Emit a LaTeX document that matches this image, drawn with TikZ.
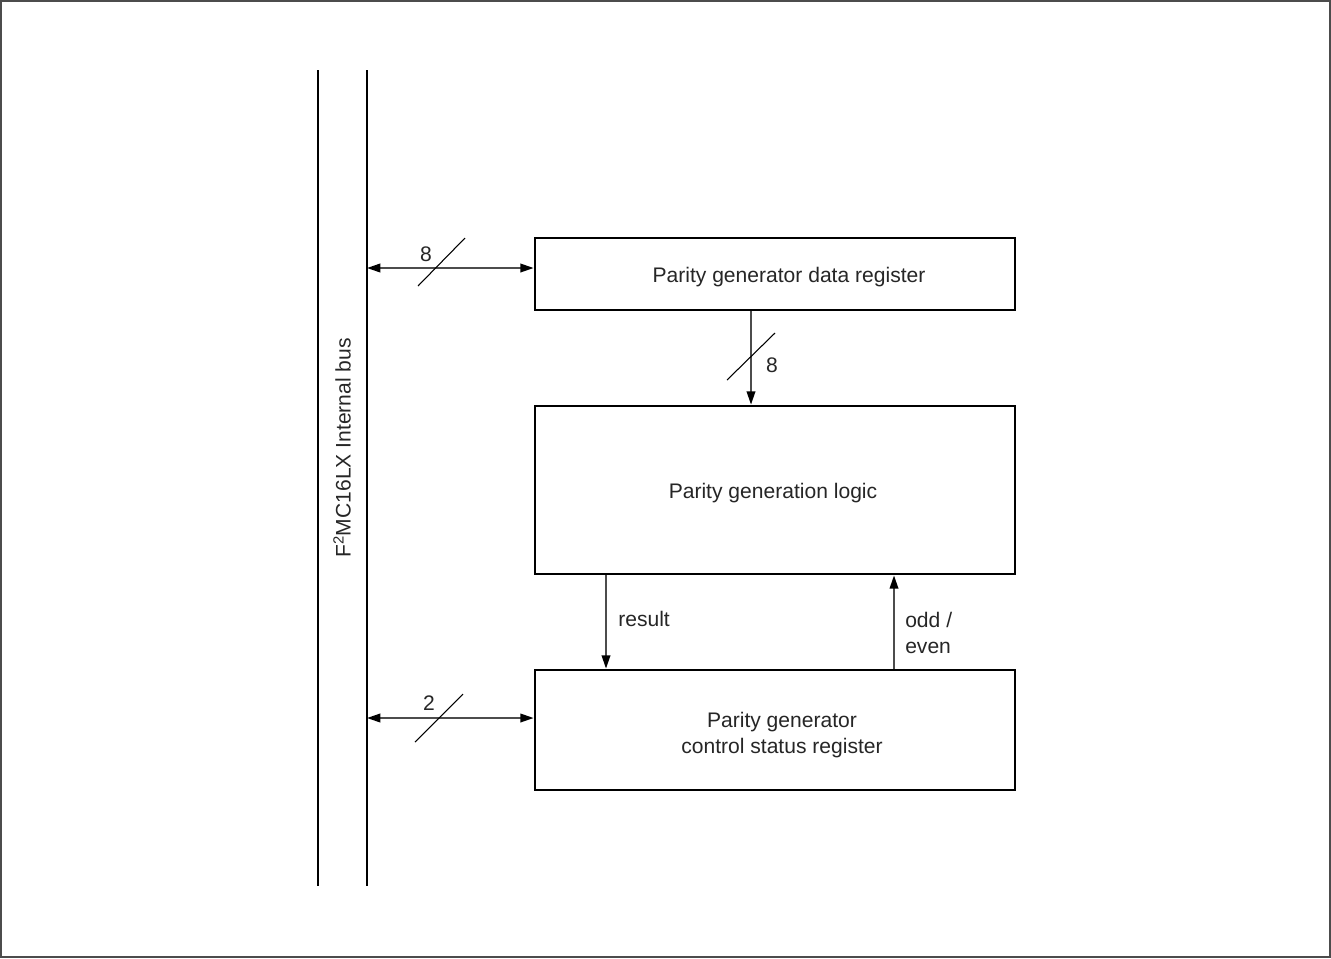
\documentclass[tikz,border=0pt]{standalone}
\usepackage{fontspec}
\setmainfont{Liberation Sans}
\usetikzlibrary{arrows.meta}
\begin{document}
\begin{tikzpicture}[x=0.75pt,y=-0.75pt,
  font=\fontsize{15.8}{19.5}\selectfont,
  box/.style={draw=black,line width=2.1pt,minimum width=360pt,inner sep=0pt,fill=white},
  txt/.style={inner sep=0pt,align=center,text=black!85},
  conn/.style={draw=black!70,line width=1.3pt},
  tip/.style={-{Triangle[length=10pt,width=6.5pt,color=black]}},
  dtip/.style={{Triangle[length=10pt,width=6.5pt,color=black]}-{Triangle[length=10pt,width=6.5pt,color=black]}},
  slash/.style={draw=black,line width=0.8pt},
  busline/.style={draw=black,line width=2.1pt},
  lbl/.style={inner sep=0pt,text=black!85}]
\useasboundingbox (0,0) rectangle (1331,958);
\draw[black!70,line width=0.9pt] (1,1) rectangle (1330,957);
% bus
\coordinate (busAtop) at (318,70);
\coordinate (busAbot) at (318,886);
\coordinate (busBtop) at (367,70);
\coordinate (busBbot) at (367,886);
\draw[busline] (busAtop) -- (busAbot);
\draw[busline] (busBtop) -- (busBbot);
\node[lbl,rotate=90] (buslbl) at (342,448) {F\textsuperscript{2}MC16LX Internal bus};
% boxes
\node[box,minimum height=54pt] (dreg) at (775,274) {};
\node[box,minimum height=126pt] (logic) at (775,490) {};
\node[box,minimum height=90pt] (creg) at (775,730) {};
\node[txt] (dregt) at (789,277) {Parity generator data register};
\node[txt] (logict) at (773,493) {Parity generation logic};
\node[txt] (cregt) at (782,735) {Parity generator\\control status register};
% bus <-> data register
\coordinate (b1) at (367,268);
\draw[conn,dtip] (b1) -- (b1 -| dreg.west);
\coordinate (s1a) at (418,286);
\coordinate (s1b) at (465,238);
\draw[slash] (s1a) -- (s1b);
\node[lbl] (n8a) at (426,254) {8};
% bus <-> control register
\coordinate (b2) at (367,718);
\draw[conn,dtip] (b2) -- (b2 -| creg.west);
\coordinate (s2a) at (415,742);
\coordinate (s2b) at (463,694);
\draw[slash] (s2a) -- (s2b);
\node[lbl] (n2) at (429,703) {2};
% data register -> logic
\coordinate (d1) at (751,0);
\draw[conn,tip] (d1 |- dreg.south) -- (d1 |- logic.north);
\coordinate (s3a) at (727,380);
\coordinate (s3b) at (775,333);
\draw[slash] (s3a) -- (s3b);
\node[lbl] (n8b) at (772,365) {8};
% result
\coordinate (r1) at (606,0);
\draw[conn,tip] (r1 |- logic.south) -- (r1 |- creg.north);
\node[lbl,anchor=west] (res) at (618,619) {result};
% odd/even
\coordinate (o1) at (894,0);
\draw[conn,tip] (o1 |- creg.north) -- (o1 |- logic.south);
\node[lbl,anchor=west,align=left] (oe) at (905,633) {odd /\\even};
\end{tikzpicture}
\end{document}
